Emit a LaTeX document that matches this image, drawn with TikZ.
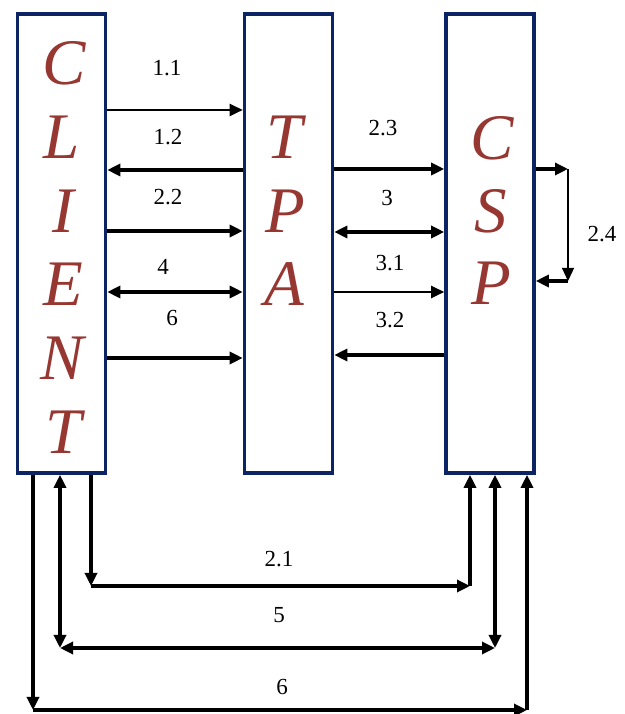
\documentclass[tikz,border=0pt]{standalone}
\usepackage{fontspec}
\setmainfont{Liberation Serif}
\usetikzlibrary{arrows.meta}
\definecolor{boxblue}{RGB}{12,35,100}
\definecolor{letterred}{RGB}{150,55,50}
\tikzset{
  x=1pt,y=1pt,
  column/.style={draw=boxblue,line width=3.6pt,fill=white,minimum width=88pt,minimum height=459pt,inner sep=0pt},
  bigletter/.style={text=letterred,font=\fontsize{65}{65}\selectfont\itshape,inner sep=0pt},
  lbl/.style={font=\fontsize{23}{24}\selectfont,inner sep=0pt},
  conn/.style={line width=3.2pt,-{Triangle[length=13pt,width=12pt]}},
  connthin/.style={line width=2.2pt,-{Triangle[length=13pt,width=12pt]}},
  conn2/.style={line width=3.2pt,{Triangle[length=13pt,width=12pt]}-{Triangle[length=13pt,width=12pt]}},
  seg/.style={line width=1.2pt}
}
\begin{document}
\begin{tikzpicture}
\useasboundingbox (0,0) rectangle (624,714);
\fill[white] (0,0) rectangle (624,714);
% boxes
\node[column] (client) at (61.5,470.5) {};
\node[column] (tpa) at (288.5,470.5) {};
\node[column] (csp) at (490,470.5) {};
% letters
\node[bigletter] (cC) at (64,651) {C};
\node[bigletter] (cL) at (62,577) {L};
\node[bigletter] (cI) at (63,503) {I};
\node[bigletter] (cE) at (63,430) {E};
\node[bigletter] (cN) at (62,356) {N};
\node[bigletter] (cT) at (64,282) {T};
\node[bigletter] (tT) at (285,577) {T};
\node[bigletter] (tP) at (285,503) {P};
\node[bigletter] (tA) at (284,430) {A};
\node[bigletter] (sC) at (492,576) {C};
\node[bigletter] (sS) at (491,503) {S};
\node[bigletter] (sP) at (491,431) {P};
% client <-> tpa
\draw[connthin] (client.east |- 0,604) -- (tpa.west |- 0,604);
\node[lbl] (l11) at (167,646) {1.1};
\draw[conn] (tpa.west |- 0,544) -- (client.east |- 0,544);
\node[lbl] (l12) at (168,577) {1.2};
\draw[conn] (client.east |- 0,483) -- (tpa.west |- 0,483);
\node[lbl] (l22) at (168,517) {2.2};
\draw[conn2] (client.east |- 0,422) -- (tpa.west |- 0,422);
\node[lbl] (l4) at (163,447) {4};
\draw[conn] (client.east |- 0,356) -- (tpa.west |- 0,356);
\node[lbl] (l6a) at (172,396) {6};
% tpa <-> csp
\draw[conn] (tpa.east |- 0,545) -- (csp.west |- 0,545);
\node[lbl] (l23) at (383,586) {2.3};
\draw[conn2] (tpa.east |- 0,482) -- (csp.west |- 0,482);
\node[lbl] (l3) at (387,516) {3};
\draw[connthin] (tpa.east |- 0,422) -- (csp.west |- 0,422);
\node[lbl] (l31) at (390,451) {3.1};
\draw[conn] (csp.west |- 0,359) -- (tpa.east |- 0,359);
\node[lbl] (l32) at (390,394) {3.2};
% 2.4 self loop
\coordinate (s1) at (568,545);
\coordinate (s2) at (568,433);
\draw[conn] (csp.east |- s1) -- (s1);
\draw[seg,-{Triangle[length=13pt,width=12pt]}] (s1) -- (s2);
\draw[conn] (s2) -- (csp.east |- s2);
\node[lbl] (l24) at (602,480) {2.4};
% bottom 2.1
\coordinate (a1) at (91,128);
\coordinate (a2) at (470,128);
\draw[conn] (client.south -| a1) -- (a1);
\draw[conn] (a1) -- (a2);
\draw[conn] (a2) -- (csp.south -| a2);
\node[lbl] (l21) at (279,155) {2.1};
% bottom 5
\coordinate (b1) at (60,66);
\coordinate (b2) at (495,66);
\draw[conn2] (client.south -| b1) -- (b1);
\draw[conn2] (b1) -- (b2);
\draw[conn2] (b2) -- (csp.south -| b2);
\node[lbl] (l5) at (279,99) {5};
% bottom 6
\coordinate (d1) at (33,4);
\coordinate (d2) at (527,4);
\draw[conn] (client.south -| d1) -- (d1);
\draw[conn] (d1) -- (d2);
\draw[conn] (d2) -- (csp.south -| d2);
\node[lbl] (l6b) at (282,27) {6};
\end{tikzpicture}
\end{document}
